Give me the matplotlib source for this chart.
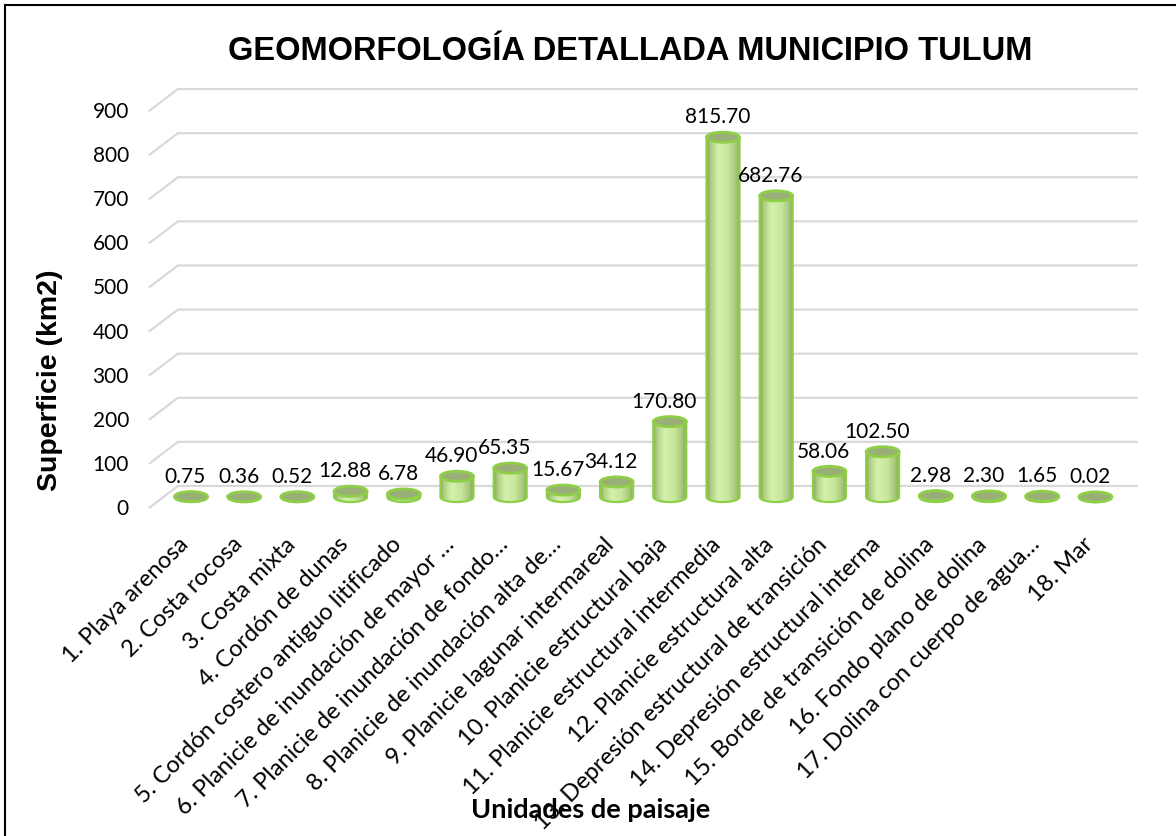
import numpy as np
import matplotlib
matplotlib.use("Agg")
import matplotlib.pyplot as plt
from matplotlib.patches import Ellipse, PathPatch
from matplotlib.path import Path
from matplotlib.colors import LinearSegmentedColormap
from matplotlib.lines import Line2D
from matplotlib.transforms import ScaledTranslation

# data
unidades = [
    "1. Playa arenosa",
    "2. Costa rocosa",
    "3. Costa mixta",
    "4. Cordón de dunas",
    "5. Cordón costero antiguo litificado",
    "6. Planicie de inundación de mayor …",
    "7. Planicie de inundación de fondo…",
    "8. Planicie de inundación alta de…",
    "9. Planicie lagunar intermareal",
    "10. Planicie estructural baja",
    "11. Planicie estructural intermedia",
    "12. Planicie estructural alta",
    "13. Depresión estructural de transición",
    "14. Depresión estructural interna",
    "15. Borde de transición de dolina",
    "16. Fondo plano de dolina",
    "17. Dolina con cuerpo de agua…",
    "18. Mar",
]
superficie = [0.75, 0.36, 0.52, 12.88, 6.78, 46.90, 65.35, 15.67, 34.12,
              170.80, 815.70, 682.76, 58.06, 102.50, 2.98, 2.30, 1.65, 0.02]
y_ticks = list(range(0, 1000, 100))

BODY = "Lato"
W, H = 1176, 837

fig = plt.figure(figsize=(W / 100, H / 100), dpi=100)
fig.patch.set_facecolor("white")

# axes placed so 0 sits at y=498 px and 100 units = 44.1 px
ax = fig.add_axes([148.4 / W, 0.3866, (1138 - 148.4) / W, 0.519])
ax.axis("off")

depth = 25      # back-wall offset in data units
bw = 0.62       # cylinder width (category units)
eh = 23         # ellipse height (data units)

# pseudo-3D gridlines (front stub + back wall line)
shift = ScaledTranslation(-20 / 100, 0, fig.dpi_scale_trans)
for v in y_ticks:
    ax.plot([-0.79, -0.245, 17.8], [v - depth, v + depth, v + depth],
            color="#d9d9d9", lw=1.6, zorder=1, solid_capstyle="butt")
    ax.text(-0.79, v - depth, str(v), ha="right", va="center",
            fontsize=15, family=BODY, color="black",
            transform=ax.transData + shift)

cmap = LinearSegmentedColormap.from_list("cyl", [
    (0.0, "#88a85c"), (0.12, "#afd183"), (0.35, "#d5f1ad"),
    (0.65, "#c6e79c"), (0.88, "#a8c97b"), (1.0, "#8aab5e")])
grad = np.linspace(0, 1, 64).reshape(1, -1)

x = np.arange(len(superficie))
bars = ax.bar(x, superficie, width=bw, color="none", edgecolor="none", zorder=2)

t = np.linspace(np.pi, 2 * np.pi, 40)
for rect, val in zip(bars, superficie):
    xc = rect.get_x() + rect.get_width() / 2
    x0, x1 = rect.get_x(), rect.get_x() + rect.get_width()
    a = rect.get_width() / 2
    verts = [(x0, val), (x0, 0)]
    verts += list(zip(xc + a * np.cos(t), (eh / 2) * np.sin(t)))
    verts += [(x1, val), (x0, val)]
    body = Path(verts, closed=True)
    patch = PathPatch(body, facecolor="none", edgecolor="#8fcf48", lw=1.6, zorder=4)
    ax.add_patch(patch)
    im = ax.imshow(grad, extent=[x0, x1, -eh / 2, max(val, 0.5)], aspect="auto",
                   cmap=cmap, zorder=3, interpolation="bicubic")
    im.set_clip_path(patch)
    top = Ellipse((xc, val), width=rect.get_width(), height=eh,
                  facecolor="#9aae78", edgecolor="#8fcf48", lw=2, zorder=5)
    ax.add_patch(top)
    ax.annotate(f"{val:.2f}", (xc, val), xytext=(-4, 15), textcoords="offset points",
                ha="center", va="center", fontsize=15, family=BODY, zorder=6)

ax.set_xlim(-0.8, 17.8)
ax.set_ylim(-35, 950)

# category labels, rotated 45 degrees
for xi, lab in zip(x, unidades):
    ax.annotate(lab, (xi, -35), xytext=(-4, -20), textcoords="offset points",
                rotation=45, rotation_mode="anchor", ha="right", va="center",
                fontsize=17, family=BODY, annotation_clip=False)

fig.text(630 / W, 1 - 51 / H, "GEOMORFOLOGÍA DETALLADA MUNICIPIO TULUM",
         ha="center", va="center", fontsize=23.5, fontweight="bold",
         family="Liberation Sans")
fig.text(50 / W, 1 - 380 / H, "Superficie (km2)", rotation=90,
         ha="center", va="center", fontsize=20.5, fontweight="bold",
         family="Liberation Sans")
fig.text(591 / W, 1 - 810 / H, "Unidades de paisaje", ha="center", va="center",
         fontsize=19.5, fontweight="bold", family=BODY)

# frame of the original picture (left and top edges)
fig.add_artist(Line2D([5 / W, 5 / W], [0, 1 - 6 / H], color="black", lw=1.5,
                      transform=fig.transFigure))
fig.add_artist(Line2D([5 / W, 1], [1 - 6 / H, 1 - 6 / H], color="black", lw=1.5,
                      transform=fig.transFigure))

fig.savefig("out.png", dpi=100, facecolor="white")
